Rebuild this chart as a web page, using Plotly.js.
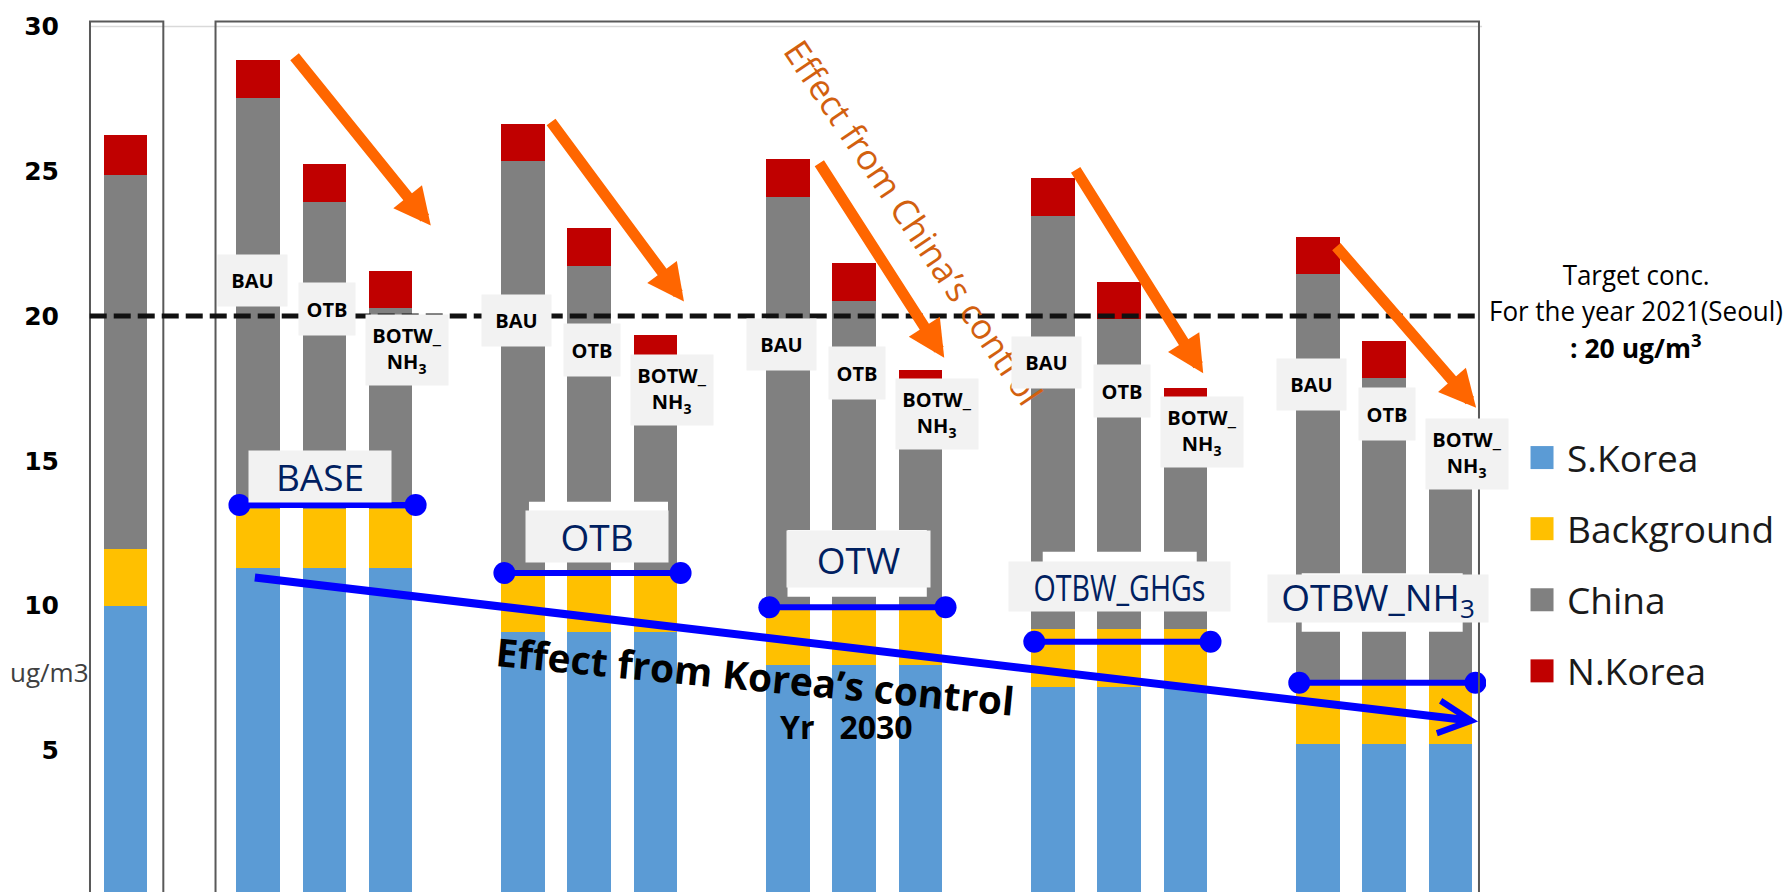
<!DOCTYPE html>
<html>
<head>
<meta charset="utf-8">
<script src="https://cdn.plot.ly/plotly-3.0.1.min.js"></script>
<style>
  html, body { margin: 0; padding: 0; background: #ffffff; }
  #chart { width: 1789px; height: 892px; }
</style>
</head>
<body>
<div id="chart"></div>
<script>
// PM2.5 source contributions in Seoul (ug/m3): the current year, then five 2030 Korean
// policy cases, each under three Chinese emission scenarios.
const cases = ['BASE', 'OTB', 'OTW', 'OTBW_GHGs', 'OTBW_NH<sub>3</sub>'];
const scenarios = ['BAU', 'OTB', 'BOTW_<br>NH<sub>3</sub>'];

const sKorea     = [10.0, 11.3, 11.3, 11.3, 9.1, 9.1, 9.1, 7.95, 7.95, 7.95, 7.2, 7.2, 7.2, 5.22, 5.22, 5.22];
const background = [1.95, 2.05, 2.05, 2.05, 2.0, 2.0, 2.0, 2.0, 2.0, 2.0, 2.0, 2.0, 2.0, 2.15, 2.15, 2.15];
const china      = [12.92, 14.19, 10.59, 6.91, 14.24, 10.63, 6.95, 14.17, 10.57, 6.93, 14.25, 10.69, 7.03, 14.08, 10.48, 6.83];
const nKorea     = [1.37, 1.32, 1.32, 1.31, 1.31, 1.32, 1.30, 1.31, 1.30, 1.27, 1.31, 1.27, 1.27, 1.29, 1.30, 1.30];

// Korean + background level marked for each 2030 case
const koreaLevel = [13.47, 11.12, 9.94, 8.75, 7.33];
const targetConc = 20;
const yTicks = [5, 10, 15, 20, 25, 30];

// ---- x slots: current bar at 0, then groups of three with one empty slot between ----
const xPos = [0];
const barNames = ['Current'];
cases.forEach((c, g) => scenarios.forEach((s, i) => {
  xPos.push(2 + 4 * g + i);
  barNames.push(c.replace(/<[^>]+>/g, '') + ' / ' + s.replace(/<br>/g, '').replace(/<[^>]+>/g, ''));
}));
const groupStart = g => 2 + 4 * g;

const series = [
  { name: 'S.Korea',    y: sKorea,     color: '#5b9bd5' },
  { name: 'Background', y: background, color: '#ffc000' },
  { name: 'China',      y: china,      color: '#808080' },
  { name: 'N.Korea',    y: nKorea,     color: '#c00000' }
];

const traces = series.map(s => ({
  type: 'bar',
  x: xPos,
  y: s.y,
  name: s.name,
  legendgroup: s.name,
  width: 0.655,
  marker: { color: s.color, line: { width: 0 } },
  hovertext: barNames,
  hoverinfo: 'text+name+y'
}));

// horizontal markers of the Korean control level in each case
cases.forEach((c, g) => {
  traces.push({
    type: 'scatter',
    mode: 'lines+markers',
    x: [groupStart(g) - 0.28, groupStart(g) + 2.38],
    y: [koreaLevel[g], koreaLevel[g]],
    line: { color: '#0000ff', width: 6 },
    marker: { color: '#0000ff', size: 22 },
    showlegend: false,
    hoverinfo: 'skip'
  });
});

const annotations = [];

// rotated caption for the China-side reduction
annotations.push({
  xref: 'x', yref: 'y', x: 11.90, y: 23.22, xanchor: 'center', yanchor: 'middle',
  text: 'Effect from China\u2019s control',
  textangle: 56, showarrow: false,
  font: { family: 'Open Sans', size: 35, color: '#d2600f' }
});

// orange arrows: BAU -> BOTW_NH3 within each case
const chinaArrows = [
  [2.534, 29.01, 4.609, 23.13],
  [6.408, 26.75, 8.431, 20.50],
  [10.46, 25.33, 12.36, 18.56],
  [14.33, 25.10, 16.27, 18.02],
  [18.26, 22.45, 20.39, 16.83]
];
chinaArrows.forEach(a => annotations.push({
  xref: 'x', yref: 'y', axref: 'x', ayref: 'y',
  ax: a[0], ay: a[1], x: a[2], y: a[3],
  text: '', showarrow: true, arrowhead: 2, arrowsize: 0.67, arrowwidth: 11,
  arrowcolor: '#ff6600', standoff: 0, startstandoff: 0
}));

// scenario tags above the bars
const tagLevel = [21.24, 19.83, 19.02, 18.41, 17.62];
const tagDx = [-0.09, 0.04, 0.25];
const tagDy = [0, -0.99, -2.40];
const tagSize = [[69, 51], [56, 52], [82, 70]];
cases.forEach((c, g) => scenarios.forEach((s, i) => annotations.push({
  xref: 'x', yref: 'y', xanchor: 'center', yanchor: 'middle',
  x: groupStart(g) + i + tagDx[i], y: tagLevel[g] + tagDy[i],
  width: tagSize[i][0], height: tagSize[i][1],
  text: s, showarrow: false, bgcolor: '#f2f2f2', borderpad: 0,
  font: { family: 'Open Sans', size: 20, color: '#000000', weight: 'bold' }
})));

// case name boxes
const caseBox = [
  { x: 2.937,  y: 14.47, w: 142, h: 51 },
  { x: 7.115,  y: 12.37, w: 142, h: 51 },
  { x: 11.07,  y: 11.59, w: 143, h: 56 },
  { x: 15.006, y: 10.64, w: 221, h: 49 },
  { x: 18.913, y: 10.25, w: 220, h: 47 }
];
cases.forEach((c, g) => annotations.push({
  xref: 'x', yref: 'y', xanchor: 'center', yanchor: 'middle',
  x: caseBox[g].x, y: caseBox[g].y,
  width: caseBox[g].w, height: caseBox[g].h,
  text: c, showarrow: false, bgcolor: '#f2f2f2', borderpad: 0,
  font: { family: 'Open Sans', size: 37, color: '#002060' }
}));

// Korea-side reduction: long arrow and caption
annotations.push({
  xref: 'x', yref: 'y', axref: 'x', ayref: 'y',
  ax: 1.93, ay: 10.97, x: 20.42, y: 5.99,
  text: '', showarrow: true, arrowhead: 5, arrowsize: 0.8, arrowwidth: 8,
  arrowcolor: '#0000ff', standoff: 0, startstandoff: 0
});
annotations.push({
  xref: 'x', yref: 'y', x: 9.50, y: 7.58, xanchor: 'center', yanchor: 'middle',
  text: 'Effect from Korea\u2019s control', textangle: 5.5, showarrow: false,
  font: { family: 'Open Sans', size: 39, color: '#000000', weight: 'bold' }
});
annotations.push({
  xref: 'x', yref: 'y', x: 10.88, y: 5.81, xanchor: 'center', yanchor: 'middle',
  text: 'Yr\u00a0\u00a0\u00a02030', showarrow: false,
  font: { family: 'Open Sans', size: 32, color: '#000000', weight: 'bold' }
});

// unit label beside the axis
annotations.push({
  xref: 'paper', yref: 'y', x: -0.02607, y: 7.70, xanchor: 'center', yanchor: 'middle',
  text: 'ug/m3', showarrow: false,
  font: { family: 'Open Sans', size: 26, color: '#404040' }
});

// target concentration note
[
  { y: 21.42, text: 'Target conc.', w: 'normal' },
  { y: 20.17, text: 'For the year 2021(Seoul)', w: 'normal' },
  { y: 18.96, text: ': 20 ug/m<sup>3</sup>', w: 'bold' }
].forEach(t => annotations.push({
  xref: 'paper', yref: 'y', x: 1.1071, y: t.y, xanchor: 'center', yanchor: 'middle',
  text: t.text, showarrow: false,
  font: { family: 'Open Sans', size: 26.5, color: '#000000', weight: t.w }
}));

// white patches left round some case labels
const patches = [
  [6.091, 8.190, 11.572, 13.585],
  [9.994, 12.097, 10.304, 12.608],
  [13.847, 16.172, 10.190, 11.858],
  [17.757, 20.187, 9.095, 11.112]
];

const shapes = [
  // top gridline
  { type: 'line', xref: 'x', yref: 'y', x0: -0.53, x1: 20.48, y0: 30, y1: 30,
    line: { color: '#d9d9d9', width: 1.5 }, layer: 'below' },
  // frame round the current-year bar
  { type: 'rect', xref: 'x', yref: 'y', x0: -0.536, x1: 0.571, y0: -1, y1: 30.17,
    line: { color: '#595959', width: 2 }, layer: 'above' },
  // frame round the 2030 cases
  { type: 'rect', xref: 'x', yref: 'y', x0: 1.359, x1: 20.433, y0: -1, y1: 30.17,
    line: { color: '#595959', width: 2 }, layer: 'above' },
  // target concentration
  { type: 'line', xref: 'x', yref: 'y', x0: -0.54, x1: 20.40, y0: targetConc, y1: targetConc,
    line: { color: '#111111', width: 5, dash: '17px,7px' }, layer: 'above' }
];
patches.forEach(p => shapes.push({
  type: 'rect', xref: 'x', yref: 'y', x0: p[0], x1: p[1], y0: p[2], y1: p[3],
  fillcolor: '#ffffff', line: { width: 0 }, layer: 'above'
}));

const layout = {
  width: 1789, height: 892,
  margin: { l: 86, r: 303, t: 9, b: 0, pad: 0 },
  paper_bgcolor: '#ffffff', plot_bgcolor: 'rgba(0,0,0,0)',
  barmode: 'stack', bargap: 0,
  showlegend: true,
  legend: {
    x: 1.0293, xanchor: 'left', y: 0.5266, yanchor: 'top',
    traceorder: 'grouped', tracegroupgap: 20, itemwidth: 30,
    bgcolor: 'rgba(0,0,0,0)', borderwidth: 0,
    font: { family: 'Open Sans', size: 37, color: '#1a1a1a' }
  },
  xaxis: { range: [-0.5963, 20.539], showgrid: false, zeroline: false, showline: false,
           showticklabels: false, ticks: '', fixedrange: true },
  yaxis: { range: [0.1036, 30.605], tickvals: yTicks, showgrid: false, zeroline: false,
           showline: false, ticks: '', ticklabelstandoff: 26, fixedrange: true,
           tickfont: { family: 'DejaVu Sans', size: 25, color: '#000000', weight: 'bold' } },
  shapes: shapes,
  annotations: annotations
};

// condense a drawn annotation text to a given pixel width
function squeeze(gd, str, px) {
  gd.querySelectorAll('.annotation-text').forEach(t => {
    if (t.textContent === str) {
      t.setAttribute('textLength', px);
      t.setAttribute('lengthAdjust', 'spacingAndGlyphs');
    }
  });
}

Plotly.newPlot('chart', traces, layout, { displayModeBar: false, staticPlot: true }).then(gd => {
  // square legend swatches, set 25px left of each label
  gd.querySelectorAll('.legend .traces').forEach(tr => {
    const txt = tr.querySelector('.legendtext');
    const p = tr.querySelector('.legendpoints path');
    if (!txt || !p) return;
    p.removeAttribute('transform');
    p.setAttribute('d', 'M-11.5,-11.5H11.5V11.5H-11.5Z');
    const tb = txt.getBoundingClientRect();
    const pb = p.getBoundingClientRect();
    const dx = (tb.left - 25) - (pb.left + pb.width / 2);
    p.setAttribute('transform', 'translate(' + dx + ',0)');
  });
  squeeze(gd, 'OTBW_GHGs', 172);
  squeeze(gd, 'Target conc.', 147);
  squeeze(gd, 'For the year 2021(Seoul)', 294);
});
</script>
</body>
</html>
